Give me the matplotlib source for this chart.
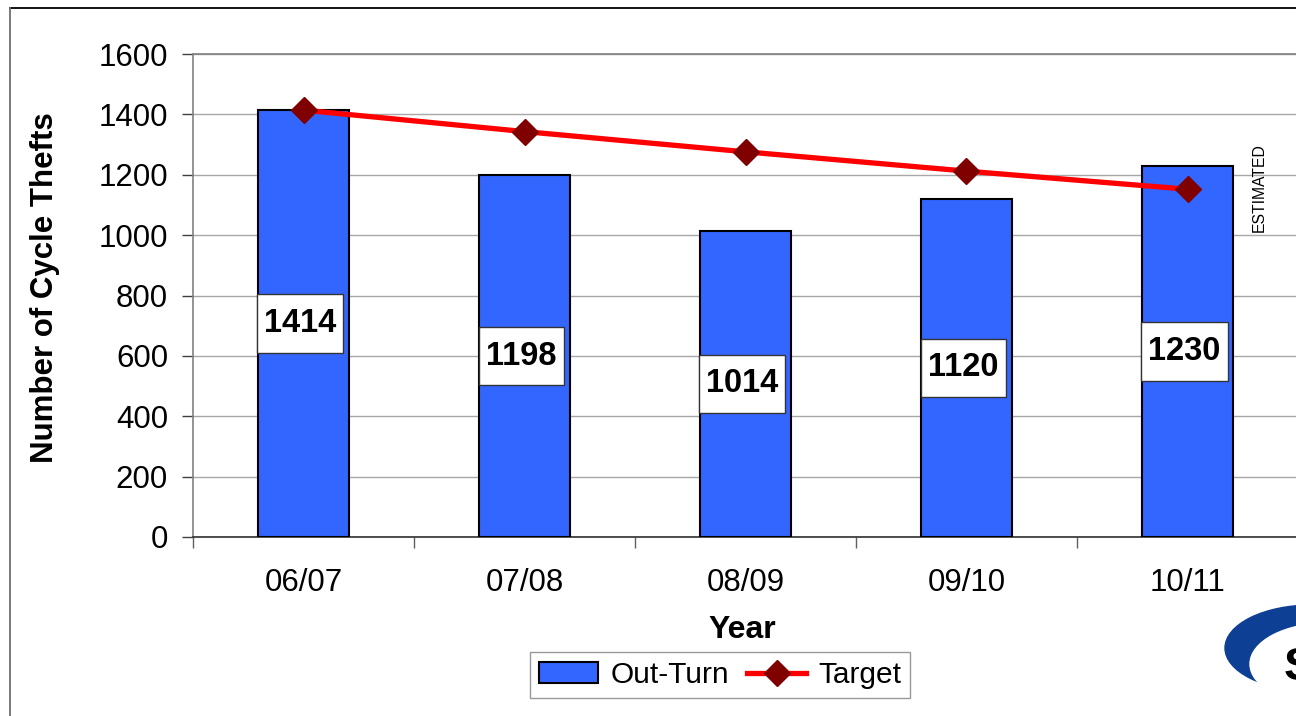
import matplotlib
matplotlib.use("Agg")
import matplotlib.pyplot as plt
from matplotlib.lines import Line2D
from matplotlib.patches import Ellipse
from matplotlib.path import Path
import numpy as np

years = ["06/07", "07/08", "08/09", "09/10", "10/11"]
out_turn = [1414, 1198, 1014, 1120, 1230]
target = [1414, 1343, 1276, 1212, 1152]
y_ticks = [0, 200, 400, 600, 800, 1000, 1200, 1400, 1600]

plt.rcParams['font.family'] = ['Liberation Sans', 'DejaVu Sans']

W, H = 1296, 716
fig = plt.figure(figsize=(W / 100, H / 100), dpi=100)
fig.patch.set_facecolor('white')

ax = fig.add_axes([193 / W, 1 - 537 / H, 1105 / W, 483 / H])
x = np.arange(len(years))

bars = ax.bar(x, out_turn, width=0.41, color='#3366FF', edgecolor='black', linewidth=1.5,
              label='Out-Turn', zorder=3)
line, = ax.plot(x, target, color='#FF0000', linewidth=3.8, marker='D', markersize=13,
                markerfacecolor='#800000', markeredgecolor='#800000', label='Target', zorder=4)


def label_box(x0, y0, width, height, mutation_size):
    px = 0.22 * mutation_size
    py = 0.42 * mutation_size
    xa, ya = x0 - px, y0 - py
    xb, yb = x0 + width + px, y0 + height + py
    return Path([(xa, ya), (xb, ya), (xb, yb), (xa, yb), (xa, ya)], closed=True)


for xi, v in zip(x, out_turn):
    ax.text(xi - 0.015, v / 2, str(v), ha='center', va='center', fontsize=23.5,
            fontweight='bold', zorder=5,
            bbox=dict(boxstyle=label_box, facecolor='white',
                      edgecolor='#333333', linewidth=1))

ax.set_xlim(-0.5, len(years) - 0.5)
ax.set_ylim(0, 1600)
ax.set_yticks(y_ticks)
ax.set_xticks(x)
ax.set_xticklabels(years)
ax.set_xticks(np.arange(-0.5, len(years)), minor=True)
ax.tick_params(axis='x', which='major', length=0, pad=22, labelsize=22.5)
ax.tick_params(axis='x', which='minor', length=8, width=1, color='#606060', direction='out')
ax.tick_params(axis='y', length=8, width=1, color='#404040', pad=10, labelsize=22.5)

ax.grid(axis='y', color='#A8A8A8', linewidth=1, zorder=0)
ax.set_axisbelow(True)
for s in ['top', 'right', 'left']:
    ax.spines[s].set_color('#808080')
    ax.spines[s].set_linewidth(1.2)
ax.spines['bottom'].set_color('#303030')
ax.spines['bottom'].set_linewidth(1.2)

ax.set_ylabel('Number of Cycle Thefts', fontsize=22.5, fontweight='bold')
ax.yaxis.set_label_coords(-0.12, 0.516)

fig.text(742 / W, 1 - 630 / H, 'Year', ha='center', va='center', fontsize=23,
         fontweight='bold')
fig.text(1259 / W, 1 - 188 / H, 'ESTIMATED', rotation=90, ha='center', va='center',
         fontsize=11.3)

leg = fig.legend(handles=[bars, line], labels=['Out-Turn', 'Target'],
                 loc='upper center', bbox_to_anchor=(720 / W, 1 - 652 / H), ncol=2,
                 fontsize=21.5, frameon=True, fancybox=False, borderpad=0.3,
                 handlelength=2.0, handletextpad=0.4, columnspacing=0.6,
                 borderaxespad=0)
leg.get_frame().set_edgecolor('#808080')
leg.get_frame().set_linewidth(1)

# outer frame
fig.add_artist(Line2D([10 / W, 1], [1 - 8 / H, 1 - 8 / H], color='black', linewidth=1.3,
                      transform=fig.transFigure))
fig.add_artist(Line2D([10 / W, 10 / W], [0, 1 - 8 / H], color='#707070', linewidth=1.3,
                      transform=fig.transFigure))

# logo fragment (crescent)
logo = fig.add_axes([1215 / W, 0, 81 / W, 120 / H])
logo.set_xlim(1215, 1296)
logo.set_ylim(716, 596)
logo.axis('off')
logo.add_patch(Ellipse((1312, 648), 174, 86, color='#0D3F94', zorder=1))
logo.add_patch(Ellipse((1328, 664), 156, 82, color='white', zorder=2))
logo.text(1284, 668, 'S', fontsize=34, fontweight='bold', color='black', va='center',
          zorder=3)

fig.savefig('out.png', dpi=100, facecolor='white')
